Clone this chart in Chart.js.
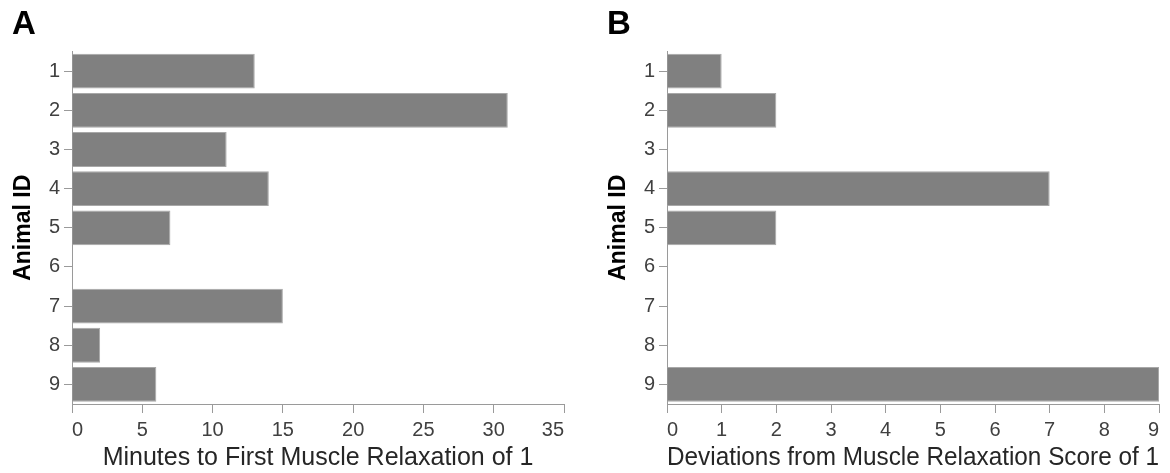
<!DOCTYPE html>
<html>
<head>
<meta charset="utf-8">
<script src="https://cdn.jsdelivr.net/npm/chart.js@4.4.1/dist/chart.umd.min.js"></script>
<style>
  html, body { margin: 0; padding: 0; background: #fff; }
  #wrap { position: relative; width: 1170px; height: 473px; overflow: hidden; }
  #panelA { position: absolute; left: 0; top: 0; }
  #panelB { position: absolute; left: 595px; top: 0; }
</style>
</head>
<body>
<div id="wrap">
  <canvas id="panelA" width="585" height="473"></canvas>
  <canvas id="panelB" width="575" height="473"></canvas>
</div>
<script>
// Animal IDs shown on the category axis of both panels
const animalIds = ['1', '2', '3', '4', '5', '6', '7', '8', '9'];

// Panel A: minutes until the first muscle relaxation score of 1
const minutesToRelaxation = [13, 31, 11, 14, 7, 0, 15, 2, 6];
const minutesAxisMax = 35;
const minutesAxisStep = 5;

// Panel B: number of deviations from a muscle relaxation score of 1
const deviationsFromScore = [1, 2, 0, 7, 2, 0, 0, 0, 9];
const deviationsAxisMax = 9;
const deviationsAxisStep = 1;

const FONT = "'Liberation Sans', Arial, Helvetica, sans-serif";
const AXIS_GREY = '#9a9a9a';
const BAR_GREY = '#808080';

Chart.defaults.font.family = FONT;

function panelConfig(letter, values, xTitle, xMax, xStep, rightPad) {
  return {
    type: 'bar',
    data: {
      labels: animalIds,
      datasets: [{
        data: values,
        backgroundColor: BAR_GREY,
        borderColor: '#a8a8a8',
        borderWidth: 1,
        barPercentage: 0.89,
        categoryPercentage: 1.0
      }]
    },
    options: {
      indexAxis: 'y',
      responsive: false,
      animation: false,
      devicePixelRatio: 1,
      layout: { padding: { left: 12, right: rightPad, top: 0, bottom: 0 } },
      plugins: {
        legend: { display: false },
        tooltip: { enabled: false },
        title: {
          display: true,
          text: letter,
          align: 'start',
          color: '#000',
          font: { size: 33, weight: 'bold', lineHeight: 1.2 },
          padding: { top: 5, bottom: 7 }
        }
      },
      scales: {
        x: {
          type: 'linear',
          min: 0,
          max: xMax,
          afterFit: s => { s.height = 69; },
          ticks: {
            stepSize: xStep,
            align: 'inner',
            padding: 5,
            color: '#404040',
            font: { size: 20 }
          },
          grid: {
            drawOnChartArea: false,
            drawTicks: true,
            tickLength: 9,
            color: AXIS_GREY
          },
          border: { display: true, color: AXIS_GREY, width: 1 },
          title: {
            display: true,
            text: xTitle,
            color: '#262626',
            font: { size: 25, lineHeight: 1.2 },
            padding: { top: 0, bottom: 0 }
          }
        },
        y: {
          afterFit: s => { s.width = 60; },
          ticks: {
            padding: 4,
            color: '#404040',
            font: { size: 20 }
          },
          grid: {
            offset: false,
            drawOnChartArea: false,
            drawTicks: true,
            tickLength: 8,
            color: AXIS_GREY
          },
          border: { display: true, color: AXIS_GREY, width: 1 },
          title: {
            display: true,
            text: 'Animal ID',
            color: '#000',
            font: { size: 23, weight: 'bold', lineHeight: 1.04 },
            padding: { top: 0, bottom: 0 }
          }
        }
      }
    }
  };
}

new Chart(document.getElementById('panelA'),
  panelConfig('A', minutesToRelaxation, 'Minutes to First Muscle Relaxation of 1',
              minutesAxisMax, minutesAxisStep, 21));

new Chart(document.getElementById('panelB'),
  panelConfig('B', deviationsFromScore, 'Deviations from Muscle Relaxation Score of 1',
              deviationsAxisMax, deviationsAxisStep, 11));
</script>
</body>
</html>
